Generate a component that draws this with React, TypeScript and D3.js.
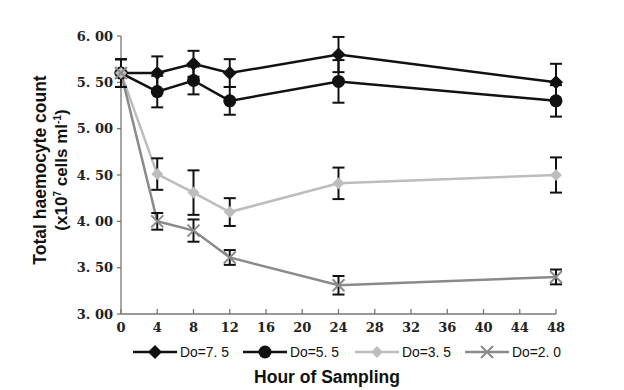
import React from 'react';
import * as d3 from 'd3';

const hours = [0, 4, 8, 12, 24, 48];
const xTicks = [0, 4, 8, 12, 16, 20, 24, 28, 32, 36, 40, 44, 48];
const yTicks = [3.0, 3.5, 4.0, 4.5, 5.0, 5.5, 6.0];

const do75 = [5.6, 5.6, 5.7, 5.6, 5.8, 5.5];
const do75Err = [0.15, 0.18, 0.14, 0.15, 0.19, 0.2];
const do55 = [5.6, 5.4, 5.52, 5.3, 5.51, 5.3];
const do55Err = [0.15, 0.17, 0.15, 0.15, 0.23, 0.17];
const do35 = [5.6, 4.51, 4.31, 4.1, 4.41, 4.5];
const do35Err = [0.15, 0.17, 0.24, 0.15, 0.17, 0.19];
const do20 = [5.6, 4.0, 3.9, 3.61, 3.31, 3.4];
const do20Err = [0.15, 0.09, 0.12, 0.08, 0.1, 0.08];

const seriesNames = ['Do=7. 5', 'Do=5. 5', 'Do=3. 5', 'Do=2. 0'];

const W = 624;
const H = 390;
const margin = { left: 121, right: 68, top: 36, bottom: 76 };

type Marker = 'diamond' | 'circle' | 'smallDiamond' | 'cross';

interface Series {
  name: string;
  values: number[];
  errs: number[];
  color: string;
  marker: Marker;
}

const series: Series[] = [
  { name: seriesNames[0], values: do75, errs: do75Err, color: '#111', marker: 'diamond' },
  { name: seriesNames[1], values: do55, errs: do55Err, color: '#111', marker: 'circle' },
  { name: seriesNames[2], values: do35, errs: do35Err, color: '#bdbdbd', marker: 'smallDiamond' },
  { name: seriesNames[3], values: do20, errs: do20Err, color: '#8a8a8a', marker: 'cross' },
];

function MarkerShape({ type, x, y, color }: { type: Marker; x: number; y: number; color: string }) {
  if (type === 'diamond') {
    const r = 7;
    return <path d={`M${x},${y - r}L${x + r},${y}L${x},${y + r}L${x - r},${y}Z`} fill={color} />;
  }
  if (type === 'circle') {
    return <circle cx={x} cy={y} r={6.5} fill={color} />;
  }
  if (type === 'smallDiamond') {
    const r = 6;
    return <path d={`M${x},${y - r}L${x + r},${y}L${x},${y + r}L${x - r},${y}Z`} fill={color} />;
  }
  const r = 6;
  return (
    <path
      d={`M${x - r},${y - r}L${x + r},${y + r}M${x - r},${y + r}L${x + r},${y - r}`}
      stroke={color}
      strokeWidth={2}
      fill="none"
    />
  );
}

export default function App() {
  const x = d3.scaleLinear().domain([0, 48]).range([margin.left, W - margin.right]);
  const y = d3.scaleLinear().domain([3, 6]).range([H - margin.bottom, margin.top]);
  const fmt = (v: number) => d3.format('.2f')(v).replace('.', '. ');

  const line = d3
    .line<number>()
    .x((_, i) => x(hours[i]))
    .y((d) => y(d));

  const legendX = [133, 243, 355, 465];
  const sans = "'Liberation Sans', Arial, sans-serif";

  return (
    <svg
      width={W}
      height={H}
      style={{ position: 'absolute', left: 0, top: 0, background: '#fff' }}
    >
      {/* axes */}
      <line x1={x(0)} x2={x(0)} y1={y(6)} y2={y(3)} stroke="#777" strokeWidth={1.3} />
      <line x1={x(0)} x2={x(48)} y1={y(3)} y2={y(3)} stroke="#777" strokeWidth={1.3} />
      {yTicks.map((t) => (
        <g key={t}>
          <line x1={x(0) - 4} x2={x(0)} y1={y(t)} y2={y(t)} stroke="#777" strokeWidth={1.3} />
          <text
            x={113}
            y={y(t)}
            dy="0.35em"
            textAnchor="end"
            fontFamily="'DejaVu Serif', serif"
            fontWeight="bold"
            fontSize={13}
            fill="#222"
          >
            {fmt(t)}
          </text>
        </g>
      ))}
      {xTicks.map((t) => (
        <g key={t}>
          <line x1={x(t)} x2={x(t)} y1={y(3)} y2={y(3) - 5} stroke="#777" strokeWidth={1.3} />
          <text
            x={x(t)}
            y={y(3) + 18}
            textAnchor="middle"
            fontFamily="'DejaVu Serif', serif"
            fontWeight="bold"
            fontSize={13}
            fill="#222"
          >
            {t}
          </text>
        </g>
      ))}

      {/* lines */}
      {series.map((s) => (
        <path key={s.name} d={line(s.values) || ''} fill="none" stroke={s.color} strokeWidth={2.5} />
      ))}

      {/* error bars */}
      {series.map((s) =>
        s.values.map((v, i) => {
          const cx = x(hours[i]);
          const hw = 6;
          const top = y(v + s.errs[i]);
          const bot = y(v - s.errs[i]);
          return (
            <g key={s.name + i} stroke="#111" strokeWidth={2}>
              <line x1={cx} x2={cx} y1={top} y2={bot} />
              <line x1={cx - hw} x2={cx + hw} y1={top} y2={top} />
              <line x1={cx - hw} x2={cx + hw} y1={bot} y2={bot} />
            </g>
          );
        })
      )}

      {/* markers */}
      {series.map((s) =>
        s.values.map((v, i) => (
          <MarkerShape key={s.name + 'm' + i} type={s.marker} x={x(hours[i])} y={y(v)} color={s.color} />
        ))
      )}

      {/* y title */}
      <g transform="translate(46,170) rotate(-90)">
        <text textAnchor="middle" fontFamily={sans} fontWeight="bold" fontSize={17.5} fill="#111">
          Total haemocyte count
        </text>
        <text y={21} textAnchor="middle" fontFamily={sans} fontWeight="bold" fontSize={17} fill="#111">
          (x10
          <tspan dy={-6} fontSize={10}>
            7
          </tspan>
          <tspan dy={6}> cells ml</tspan>
          <tspan dy={-6} fontSize={10}>
            -1
          </tspan>
          <tspan dy={6}>)</tspan>
        </text>
      </g>

      {/* legend */}
      {series.map((s, i) => {
        const lx = legendX[i];
        const ly = 352;
        return (
          <g key={'lg' + s.name}>
            <line x1={lx} x2={lx + 44} y1={ly} y2={ly} stroke={s.color} strokeWidth={2.5} />
            <MarkerShape type={s.marker} x={lx + 22} y={ly} color={s.color} />
            <text
              x={lx + 47}
              y={ly}
              dy="0.35em"
              fontFamily={sans}
              fontSize={14}
              fill="#111"
              textLength={49}
              lengthAdjust="spacingAndGlyphs"
            >
              {s.name}
            </text>
          </g>
        );
      })}

      <text x={327} y={383} textAnchor="middle" fontFamily={sans} fontWeight="bold" fontSize={17.5} fill="#111">
        Hour of Sampling
      </text>
    </svg>
  );
}
